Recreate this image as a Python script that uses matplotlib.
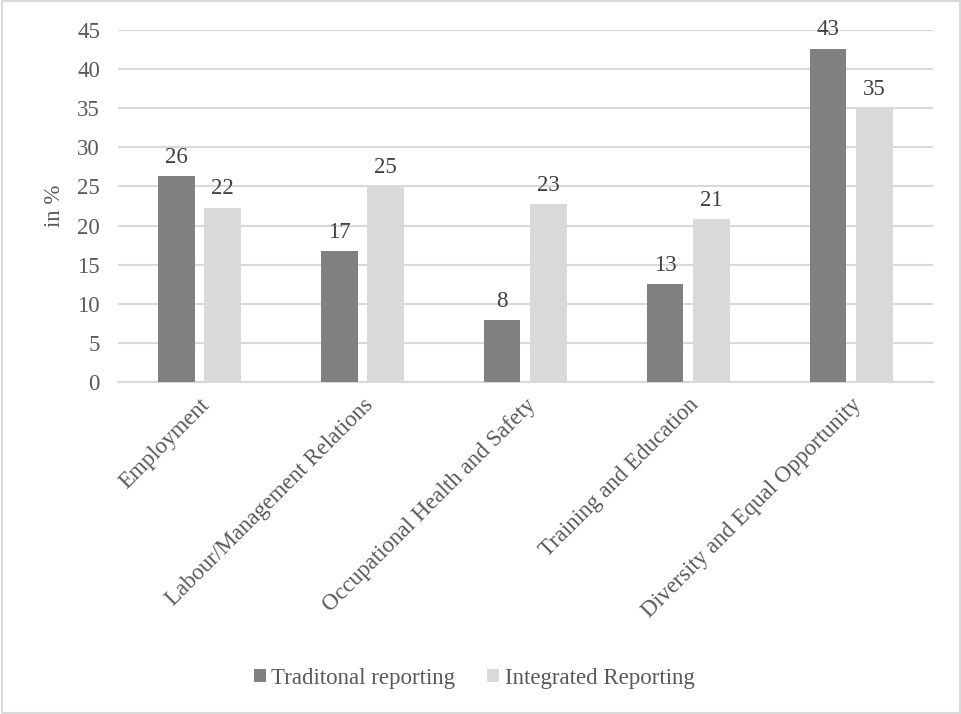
import numpy as np
import matplotlib
matplotlib.use("Agg")
import matplotlib.pyplot as plt
from matplotlib.patches import Rectangle

# data
categories = ["Employment", "Labour/Management Relations",
              "Occupational Health and Safety", "Training and Education",
              "Diversity and Equal Opportunity"]
traditional = [26.3, 16.7, 7.9, 12.5, 42.6]
integrated = [22.3, 25.0, 22.7, 20.8, 35.0]
series_names = ["Traditonal reporting", "Integrated Reporting"]

plt.rcParams['font.family'] = ['Liberation Serif', 'DejaVu Serif']
text_color = "#595959"
grid_color = "#D9D9D9"
fs = 16.5

fig = plt.figure(figsize=(9.62, 7.14), dpi=100)
ax = fig.add_axes([0.1227, 0.465, 0.847, 0.493])

x = np.arange(len(categories))
w = 0.225
off = 0.143
b1 = ax.bar(x - off, traditional, w, color="#808080", label=series_names[0], zorder=3)
b2 = ax.bar(x + off, integrated, w, color="#D9D9D9", label=series_names[1], zorder=3)

for bars, vals in ((b1, traditional), (b2, integrated)):
    for bar, v in zip(bars, vals):
        ax.text(bar.get_x() + bar.get_width() / 2, v + 1.1, str(int(v + 0.5)),
                ha="center", va="bottom", fontsize=fs, color="#404040")

ax.set_xlim(-0.5, len(categories) - 0.5)
ax.set_ylim(0, 45)
ax.set_yticks(np.arange(0, 46, 5))
ax.yaxis.grid(True, color=grid_color, linewidth=1.5, zorder=0)
ax.set_axisbelow(True)
for s in ["top", "right", "left"]:
    ax.spines[s].set_visible(False)
ax.spines["bottom"].set_color(grid_color)
ax.spines["bottom"].set_linewidth(1.5)
ax.tick_params(axis="both", length=0, labelsize=fs, colors=text_color)
ax.tick_params(axis="x", pad=9)
ax.tick_params(axis="y", pad=13)
ax.set_xticks(x)
ax.set_xticklabels(categories, rotation=45, ha="right", rotation_mode="anchor")
ax.set_ylabel("in %", fontsize=fs, color=text_color, labelpad=9)

leg = fig.legend(loc="center", bbox_to_anchor=(0.493, 0.05), ncol=2, frameon=False,
                 fontsize=fs, handlelength=0.5, handleheight=0.5,
                 handletextpad=0.25, columnspacing=1.4)
for t in leg.get_texts():
    t.set_color(text_color)

# outer chart border
fig.patches.append(Rectangle((0.002, 0.002), 0.996, 0.996, transform=fig.transFigure,
                             fill=False, edgecolor=grid_color, linewidth=1.5))

fig.savefig("out.png", dpi=100)
